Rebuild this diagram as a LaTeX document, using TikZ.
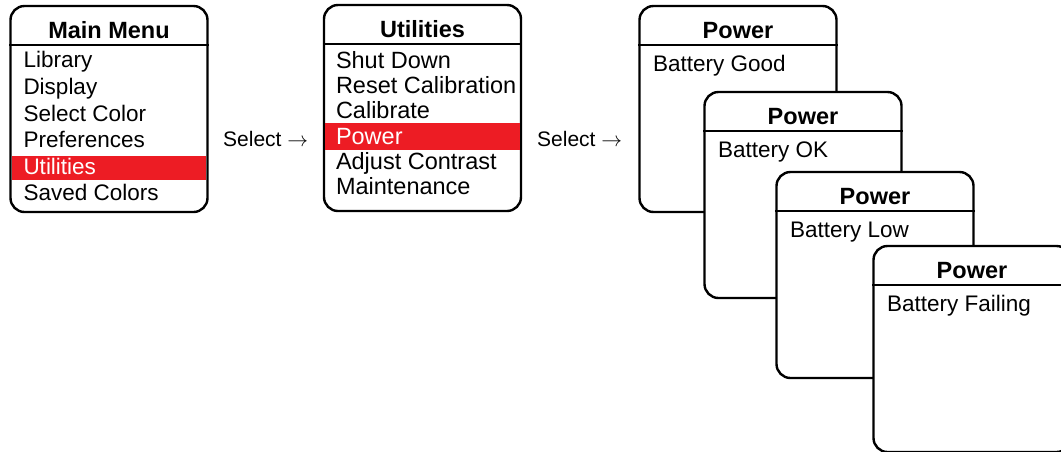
\documentclass[tikz,border=0pt]{standalone}
\usepackage{fontspec}
\setmainfont{Liberation Sans}
\usetikzlibrary{calc}
\usetikzlibrary{positioning}
\definecolor{pickred}{RGB}{237,28,36}
\tikzset{
    menu box/.style={
        draw,
        fill=white,
        line width=2.4pt,
        rounded corners=14pt,
        minimum width=197pt,
        minimum height=206pt,
        inner sep=0,
    },
    menu title/.style={
        anchor=base,
        inner sep=0,
        font=\fontsize{23.5}{28}\selectfont\bfseries,
    },
    menu item/.style={
        anchor=base west,
        inner sep=0,
        font=\fontsize{22.5}{27}\selectfont,
    },
    big item/.style={
        menu item,
        font=\fontsize{23.5}{28}\selectfont,
    },
    select label/.style={
        anchor=base west,
        inner sep=0,
        font=\fontsize{21}{25}\selectfont,
    },
}

\begin{document}
\begin{tikzpicture}[x=1pt, y=-1pt]

    \clip (0,0) rectangle (1061,451);

    % one screen: name, x, y, title
    \newcommand\menuscreen[4]{
        \node[menu box] (#1) at (#2,#3) {};
        \draw[line width=2.4pt] ($(#1.north west)+(0,40)$) -- ($(#1.north east)+(0,40)$);
        \node[menu title] (#1-title) at ($(#1.north)+(0,33.5)$) {#4};
    }

    % main menu
    \menuscreen{main}{109}{109}{Main Menu}
    \fill[pickred] ($(main.north west)+(2.4,151)$) rectangle ($(main.north east)+(-2.4,175)$);
    \foreach \item/\col [count=\i from 0] in {Library/black, Display/black, Select Color/black,
        Preferences/black, Utilities/white, Saved Colors/black}
    {
        \node[menu item, text=\col] (main-\i) at ($(main.north west)+(14,63+26.6*\i)$) {\item};
    }

    \node[select label] (select-1) at (223,146.5) {Select $\rightarrow$};

    % utilities
    \menuscreen{util}{422.5}{108}{Utilities}
    \fill[pickred] ($(util.north west)+(2.4,119)$) rectangle ($(util.north east)+(-2.4,146)$);
    \foreach \item/\col [count=\i from 0] in {Shut Down/black, Reset Calibration/black,
        Calibrate/black, Power/white, Adjust Contrast/black, Maintenance/black}
    {
        \node[big item, text=\col] (util-\i) at ($(util.north west)+(13,64.5+25.3*\i)$) {\item};
    }

    \node[select label] (select-2) at (537,146.5) {Select $\rightarrow$};

    % power screens
    \foreach \name/\x/\y/\state in {good/738/109/Good, ok/803/195/OK, low/875/275/Low,
        fail/972/349/Failing}
    {
        \menuscreen{\name}{\x}{\y}{Power}
        \node[menu item] (\name-text) at ($(\name.north west)+(14.5,67)$) {Battery \state};
    }

\end{tikzpicture}
\end{document}
